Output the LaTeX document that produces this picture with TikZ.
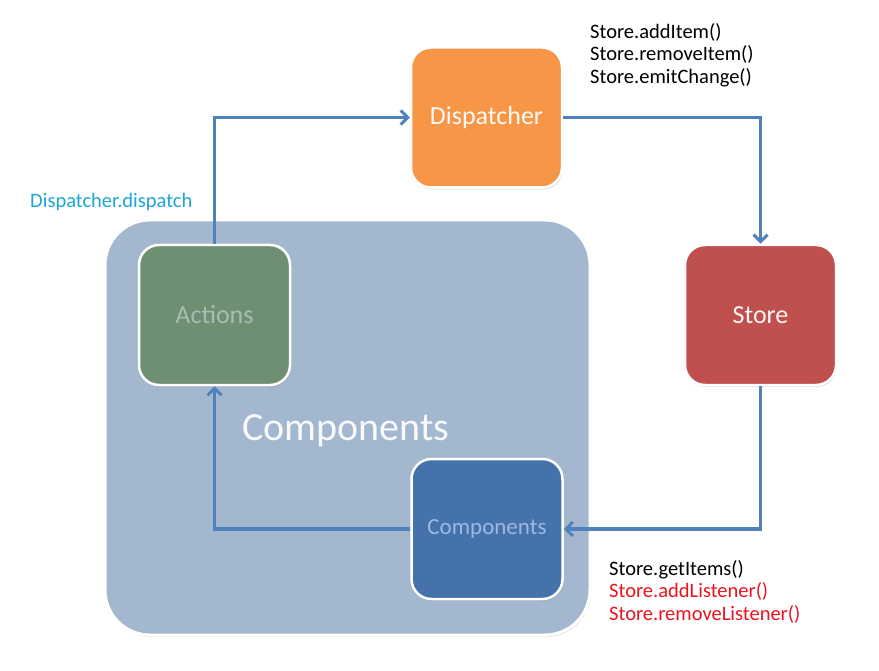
\documentclass[tikz,border=0pt]{standalone}
\usepackage{fontspec}
\setmainfont{Carlito}
\usetikzlibrary{arrows.meta,shadows}
\definecolor{bigfill}{RGB}{163,183,207}
\definecolor{dispfill}{RGB}{247,150,70}
\definecolor{actfill}{RGB}{111,143,114}
\definecolor{acttext}{RGB}{165,190,178}
\definecolor{storefill}{RGB}{192,80,77}
\definecolor{compfill}{RGB}{70,114,172}
\definecolor{comptext}{RGB}{155,185,225}
\definecolor{arrowblue}{RGB}{79,129,189}
\definecolor{cyanlabel}{RGB}{30,166,214}
\definecolor{redlabel}{RGB}{235,20,30}
\tikzset{
  box/.style={rectangle, rounded corners=20pt, draw=white, line width=2.5pt,
    minimum width=151pt, minimum height=140pt, font=\fontsize{26}{30}\selectfont,
    drop shadow={opacity=0.25, shadow xshift=1pt, shadow yshift=-2pt}},
  flow/.style={draw=arrowblue, line width=3.5pt, -{Straight Barb[length=7pt,width=14pt,line width=3pt]}},
  lbl/.style={font=\fontsize{20.5}{22.8}\selectfont, align=left, anchor=north west, inner sep=0pt}
}
\begin{document}
\begin{tikzpicture}[x=1pt,y=-1pt]
\useasboundingbox (0,0) rectangle (879,671);
\fill[white] (0,0) rectangle (879,671);
\node[rectangle, rounded corners=45pt, fill=bigfill, draw=white, line width=3pt,
  minimum width=485pt, minimum height=415pt,
  drop shadow={opacity=0.25, shadow xshift=1pt, shadow yshift=-2pt}] (big) at (347.5,427.5) {};
\node[text=white!92!bigfill, font=\fontsize{40}{46}\selectfont] (bigtext) at (346,431) {Components};
\node[box, fill=dispfill, text=white!95!dispfill] (disp) at (486.5,117.5) {Dispatcher};
\node[box, fill=actfill, text=acttext] (act) at (214.5,315) {Actions};
\node[box, fill=storefill, text=white!95!storefill] (store) at (760.5,315) {Store};
\node[box, fill=compfill, text=comptext, font=\fontsize{23}{27}\selectfont] (comp) at (487,529) {Components};
\draw[flow] (act.north) |- (disp.west);
\draw[flow] (disp.east) -| (store.north);
\draw[flow] (store.south) |- (comp.east);
\draw[flow] (comp.west) -| (act.south);
\node[lbl, text=cyanlabel] (dd) at (30,193) {Dispatcher.dispatch};
\node[lbl] (storeops) at (590,23) {Store.addItem()\\Store.removeItem()\\Store.emitChange()};
\node[lbl] (getops) at (609,560) {Store.getItems()\\\textcolor{redlabel}{Store.addListener()}\\\textcolor{redlabel}{Store.removeListener()}};
\end{tikzpicture}
\end{document}
